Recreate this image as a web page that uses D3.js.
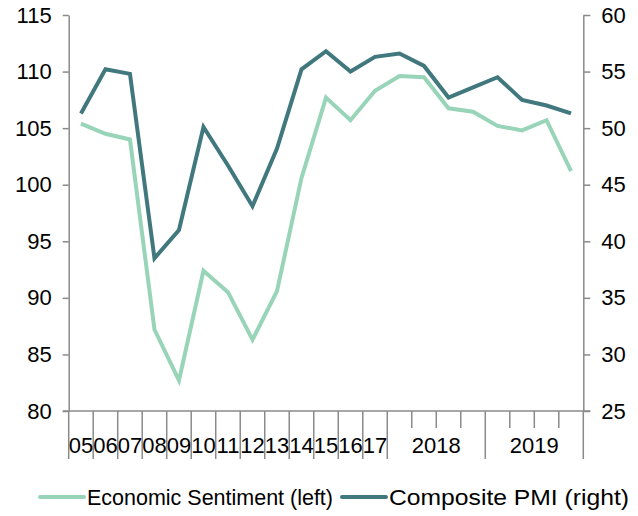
<!DOCTYPE html>
<html><head><meta charset="utf-8">
<script src="https://cdn.jsdelivr.net/npm/d3@7"></script>
<style>
html,body{margin:0;padding:0;background:#fff;}
svg{display:block;font-family:"Liberation Sans",Arial,sans-serif;}
</style></head>
<body>
<svg id="chart" width="638" height="516"></svg>
<script>
const categories = ["2005","2006","2007","2008","2009","2010","2011","2012","2013","2014","2015","2016","2017",
  "2018Q1","2018Q2","2018Q3","2018Q4","2019Q1","2019Q2","2019Q3","2019Q4"];
const sentiment = [105.4,104.5,104.0,87.2,82.7,92.4,90.5,86.3,90.6,100.6,107.7,105.7,108.3,109.6,109.5,106.75,106.45,105.2,104.8,105.7,101.2];
const pmi = [51.3,55.2,54.8,38.5,41.0,50.1,46.7,43.1,48.2,55.2,56.8,55.0,56.3,56.6,55.5,52.7,53.6,54.5,52.5,52.0,51.3];
const leftTicks = [80,85,90,95,100,105,110,115];
const rightTicks = [25,30,35,40,45,50,55,60];
// x-axis labels: [label, first category index, last category index]
const xLabels = [["05",0,0],["06",1,1],["07",2,2],["08",3,3],["09",4,4],["10",5,5],["11",6,6],["12",7,7],
  ["13",8,8],["14",9,9],["15",10,10],["16",11,11],["17",12,12],["2018",13,16],["2019",17,20]];
const seriesNames = ["Economic Sentiment (left)","Composite PMI (right)"];
const colors = ["#98d4b8","#41787e"];

const svg = d3.select("#chart");
const L = 68.7, R = 583.3, T = 15, B = 411;
const axisColor = "#8a8a8a";
const fs = "22px";

const x = d3.scaleBand().domain(categories).range([L, R]).padding(0);
const yL = d3.scaleLinear().domain([80,115]).range([B, T]);
const yR = d3.scaleLinear().domain([25,60]).range([B, T]);

// left axis
const gl = svg.append("g").attr("transform",`translate(${L},0)`)
  .call(d3.axisLeft(yL).tickValues(leftTicks).tickSize(6).tickSizeOuter(0).tickPadding(11));
// right axis
const gr = svg.append("g").attr("transform",`translate(${R},0)`)
  .call(d3.axisRight(yR).tickValues(rightTicks).tickSize(7).tickSizeOuter(0).tickPadding(11));
[gl,gr].forEach(g=>{
  g.select(".domain").attr("stroke",axisColor).attr("stroke-width",1.5);
  g.selectAll(".tick line").attr("stroke",axisColor).attr("stroke-width",1.5);
  g.selectAll(".tick text").attr("fill","#000").style("font-size",fs).style("font-family","Liberation Sans, Arial, sans-serif");
});

// bottom axis
const gx = svg.append("g");
gx.append("line").attr("x1",L-6).attr("x2",R+7).attr("y1",B).attr("y2",B)
  .attr("stroke",axisColor).attr("stroke-width",1.5);
const bounds = categories.map(c=>x(c)).concat([x(categories[categories.length-1])+x.bandwidth()]);
const longIdx = new Set();
xLabels.forEach(d=>{longIdx.add(d[1]); longIdx.add(d[2]+1);});
bounds.forEach((bx,i)=>{
  gx.append("line").attr("x1",bx).attr("x2",bx).attr("y1",B).attr("y2",B+(longIdx.has(i)?48:17))
    .attr("stroke",axisColor).attr("stroke-width",1.5);
});
xLabels.forEach(d=>{
  const cx = (x(categories[d[1]]) + x(categories[d[2]]) + x.bandwidth())/2;
  gx.append("text").attr("x",cx).attr("y",453).attr("text-anchor","middle")
    .style("font-size",fs).attr("fill","#000").text(d[0]);
});

// lines
const cx = c => x(c)+x.bandwidth()/2;
const lineL = d3.line().x((d,i)=>cx(categories[i])).y(d=>yL(d));
const lineR = d3.line().x((d,i)=>cx(categories[i])).y(d=>yR(d));
svg.append("path").datum(sentiment).attr("d",lineL).attr("fill","none")
  .attr("stroke",colors[0]).attr("stroke-width",4);
svg.append("path").datum(pmi).attr("d",lineR).attr("fill","none")
  .attr("stroke",colors[1]).attr("stroke-width",4);

// legend
const leg = svg.append("g");
const legX = [40, 342];
const legW = [246, 240];
seriesNames.forEach((n,i)=>{
  leg.append("line").attr("x1",legX[i]).attr("x2",legX[i]+44).attr("y1",497).attr("y2",497)
    .attr("stroke",colors[i]).attr("stroke-width",4).attr("stroke-linecap","round");
  leg.append("text").attr("x",legX[i]+47).attr("y",505).style("font-size",fs).attr("fill","#000")
    .attr("textLength",legW[i]).attr("lengthAdjust","spacingAndGlyphs").text(n);
});
</script>
</body></html>
